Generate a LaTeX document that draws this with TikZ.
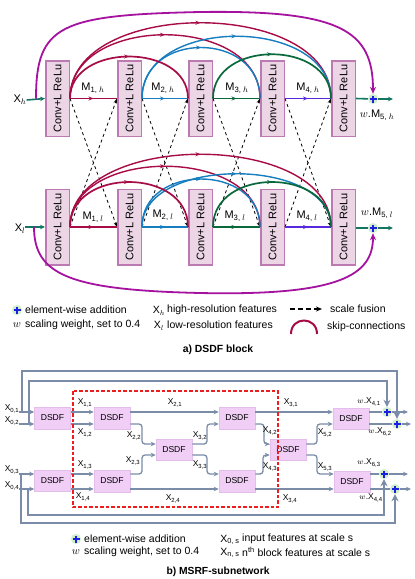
\documentclass[tikz,border=0pt]{standalone}
\usepackage{fontspec}
\setmainfont{Liberation Sans}
\usetikzlibrary{arrows.meta,decorations.markings}
\definecolor{cteal}{RGB}{18,118,98}
\definecolor{ccrim}{RGB}{168,12,70}
\definecolor{cblue}{RGB}{22,125,192}
\definecolor{cgreen}{RGB}{10,105,60}
\definecolor{cviol}{RGB}{88,40,220}
\definecolor{cmag}{RGB}{165,18,160}
\definecolor{boxfill}{RGB}{236,214,230}
\definecolor{boxdraw}{RGB}{188,122,178}
\definecolor{plusfill}{RGB}{205,240,200}
\definecolor{plusblue}{RGB}{30,30,225}
\definecolor{cgray}{RGB}{122,140,168}
\definecolor{dsdffill}{RGB}{240,206,246}
\definecolor{dsdfdraw}{RGB}{228,190,234}
\definecolor{regionred}{RGB}{235,30,30}
\tikzset{
  conv/.style={draw=boxdraw, line width=1.5pt, fill=boxfill, minimum width=23.5pt, minimum height=75.5pt, inner sep=0pt, font=\fontsize{11}{12}\selectfont},
  midarr/.style={postaction={decorate}, decoration={markings, mark=at position #1 with {\arrow{Stealth[length=5pt,width=4pt]}}}},
  midarr/.default=0.5,
  link/.style={line width=1.6pt},
  skiparc/.style={line width=1.4pt, midarr},
  fuse/.style={dashed, line width=0.8pt, -{Stealth[length=5pt,width=3.5pt]}},
  addc/.style={circle, fill=plusfill, minimum size=10pt, inner sep=0pt,
    path picture={\draw[plusblue, line width=1.6pt]
      ([xshift=-3.5pt]path picture bounding box.center) -- ([xshift=3.5pt]path picture bounding box.center)
      ([yshift=-3.5pt]path picture bounding box.center) -- ([yshift=3.5pt]path picture bounding box.center);}},
  lab/.style={inner sep=0pt, font=\fontsize{11}{12}\selectfont},
  leg/.style={inner sep=0pt, font=\fontsize{10.5}{12}\selectfont},
  slab/.style={inner sep=0pt, font=\fontsize{8.5}{10}\selectfont},
  dsdf/.style={draw=dsdfdraw, line width=0.5pt, fill=dsdffill, minimum width=36pt, minimum height=21.5pt, inner sep=0pt, font=\fontsize{8.6}{10}\selectfont},
  gl/.style={draw=cgray, line width=1.3pt, rounded corners=3pt, -{Stealth[length=5pt,width=4.5pt]}},
  gplain/.style={draw=cgray, line width=1.3pt},
  gloop/.style={draw=cgray, line width=2.3pt, -{Stealth[length=7pt,width=7pt]}},
}
\begin{document}
\begin{tikzpicture}[x=1pt,y=-1pt]
\useasboundingbox (0,0) rectangle (415,579);
\fill[white] (0,0) rectangle (415,579);

% ---------------- a) DSDF block ----------------
\foreach \i/\x in {1/57.5,2/129.5,3/200.5,4/272.5,5/343.5}{
  \node[conv] (t\i) at (\x,98.5) {\rotatebox{90}{Conv+L ReLu}};
  \node[conv] (b\i) at (\x,227) {\rotatebox{90}{Conv+L ReLu}};
}
\node[addc] (ph) at (373,99) {};
\node[addc] (pl) at (373,228) {};
\coordinate (oh) at (393,99);
\coordinate (ol) at (393,228);

% scale fusion
\foreach \i/\j in {1/2,2/3,3/4,4/5}{
  \draw[fuse] (t\i.east) -- (b\j.west);
  \draw[fuse] (b\i.east) -- (t\j.west);
}

% straight links
\draw[link, ccrim, midarr] (t1.east) -- (t2.west);
\draw[link, cblue, midarr] (t2.east) -- (t3.west);
\draw[link, cgreen, midarr] (t3.east) -- (t4.west);
\draw[link, cviol, midarr] (t4.east) -- (t5.west);
\draw[link, ccrim, midarr] (b1.east) -- (b2.west);
\draw[link, cblue, midarr] (b2.east) -- (b3.west);
\draw[link, cgreen, midarr] (b3.east) -- (b4.west);
\draw[link, cviol, midarr] (b4.east) -- (b5.west);

% skip arcs top
\draw[skiparc, ccrim] (t1.east) .. controls +(0,-101) and +(0,-101) .. (t5.west);
\draw[skiparc, ccrim] (t1.east) .. controls +(0,-85) and +(0,-85) .. (t4.west);
\draw[skiparc, cblue] (t2.east) .. controls +(0,-83) and +(0,-83) .. (t5.west);
\draw[skiparc, cblue] (t2.east) .. controls +(0,-68) and +(0,-68) .. (t4.west);
\draw[skiparc, ccrim, line width=1.7pt] (t1.east) .. controls +(0,-56) and +(0,-56) .. (t3.west);
\draw[skiparc, cgreen, line width=1.7pt] (t3.east) .. controls +(0,-59) and +(0,-59) .. (t5.west);
% skip arcs bottom
\draw[skiparc, ccrim] (b1.east) .. controls +(0,-97) and +(0,-97) .. (b5.west);
\draw[skiparc, ccrim] (b1.east) .. controls +(0,-81) and +(0,-81) .. (b4.west);
\draw[skiparc, cblue] (b2.east) .. controls +(0,-71) and +(0,-71) .. (b5.west);
\draw[skiparc, cblue] (b2.east) .. controls +(0,-64) and +(0,-64) .. (b4.west);
\draw[skiparc, ccrim, line width=1.7pt] (b1.east) .. controls +(0,-60) and +(0,-60) .. (b3.west);
\draw[skiparc, cgreen, line width=1.7pt] (b3.east) .. controls +(0,-60) and +(0,-60) .. (b5.west);

% inputs / outputs
\node[lab] (xh) at (20,100) {X\textsubscript{$h$}};
\node[lab] (xl) at (20,229) {X\textsubscript{$l$}};
\draw[cteal, link, -{Stealth[length=5pt,width=4.5pt]}] (xh.east) -- (t1.west);
\draw[cteal, link, -{Stealth[length=5pt,width=4.5pt]}] (xl.east |- b1.west) -- (b1.west);
\draw[cteal, link] (t5.east) -- (ph);
\draw[cteal, link] (b5.east |- pl) -- (pl);
\draw[cteal, link, -{Stealth[length=5pt,width=4.5pt]}] (ph) -- (oh);
\draw[cteal, link, -{Stealth[length=5pt,width=4.5pt]}] (pl) -- (ol);

% magenta residuals
\coordinate (mh) at (36,98.5);
\coordinate (ml) at (34,227);
\draw[cmag, line width=1.8pt, -{Stealth[length=7pt,width=6pt]}] (mh) .. controls (36,25) and (60,15) .. (200,12) .. controls (340,10) and (373,30) .. (ph.north);
\draw[cmag, line width=1.8pt, -{Stealth[length=7pt,width=6pt]}] (ml) .. controls (34,275) and (70,290) .. (200,293) .. controls (340,296) and (373,275) .. (pl.south);

% labels
\node[lab] at (93,88) {M\textsubscript{1, $h$}};
\node[lab] at (163,88) {M\textsubscript{2, $h$}};
\node[lab] at (237,88) {M\textsubscript{3, $h$}};
\node[lab] at (308,88) {M\textsubscript{4, $h$}};
\node[lab] at (93,217) {M\textsubscript{1, $l$}};
\node[lab] at (163,215) {M\textsubscript{2, $l$}};
\node[lab] at (235,216) {M\textsubscript{3, $l$}};
\node[lab] at (307,216) {M\textsubscript{4, $l$}};
\node[lab] at (377,115) {$w$.M\textsubscript{5, $h$}};
\node[lab] at (377,213) {$w$.M\textsubscript{5, $l$}};

% legend a
\node[addc] (lga) at (17,310) {};
\node[leg, anchor=west] at (25,310) {element-wise addition};
\node[leg] at (17,325) {$w$};
\node[leg, anchor=west] at (25,325) {scaling weight, set to 0.4};
\node[leg] at (159,311) {X\textsubscript{$h$}};
\node[leg, anchor=west] at (167,309.5) {high-resolution features};
\node[leg] at (159,326) {X\textsubscript{$l$}};
\node[leg, anchor=west] at (167,325) {low-resolution features};
\draw[black, line width=1.4pt, dash pattern=on 5pt off 3pt, -{Stealth[length=6pt,width=5pt]}] (290,309) -- (322,309);
\node[leg, anchor=west] at (330,309) {scale fusion};
\draw[ccrim, line width=2pt] (291,334) .. controls (291,316) and (317,316) .. (317,334);
\node[leg, anchor=west] at (327,327) {skip-connections};
\node[inner sep=0pt, font=\bfseries\fontsize{10.4}{12}\selectfont] at (218,350) {a) DSDF block};

% ---------------- b) MSRF-subnetwork ----------------
\coordinate (r1) at (0,412);
\coordinate (r2) at (0,424);
\coordinate (mt) at (0,444);
\coordinate (mb) at (0,455);
\coordinate (r3) at (0,474);
\coordinate (r4) at (0,489);

\node[dsdf] (A) at (52.5,418) {DSDF};
\node[dsdf] (B) at (112,418) {DSDF};
\node[dsdf] (D) at (237,418) {DSDF};
\node[dsdf] (H) at (351,418.5) {DSDF};
\node[dsdf] (C) at (174,449.5) {DSDF};
\node[dsdf] (G) at (288,449.5) {DSDF};
\node[dsdf] (A2) at (52.5,480.5) {DSDF};
\node[dsdf] (E) at (112,481) {DSDF};
\node[dsdf] (F) at (237,481) {DSDF};
\node[dsdf] (J) at (352,481.5) {DSDF};

\node[addc] (P1) at (387,412) {};
\node[addc] (P2) at (397,424) {};
\node[addc] (P3) at (384,474) {};
\node[addc] (P4) at (395,489) {};
\coordinate (q1) at (408,412);
\coordinate (q2) at (411,424);
\coordinate (q3) at (408,474);
\coordinate (q4) at (411,489);

% inputs
\node[slab] (x01) at (12,409) {X\textsubscript{0,1}};
\node[slab] (x02) at (12,421) {X\textsubscript{0,2}};
\node[slab] (x03) at (12,470) {X\textsubscript{0,3}};
\node[slab] (x04) at (12,486) {X\textsubscript{0,4}};
\coordinate (i1) at (19,412);
\coordinate (i2) at (19,424);
\coordinate (i3) at (19,474);
\coordinate (i4) at (19,489);
\draw[gl] (i1) -- (i1 -| A.west);
\draw[gl] (i2) -- (i2 -| A.west);
\draw[gl] (i3) -- (i3 -| A2.west);
\draw[gl] (i4) -- (i4 -| A2.west);

% long residual loops
\coordinate (o1) at (22,412); \coordinate (o1t) at (22,371);
\coordinate (o2) at (29,424); \coordinate (o2t) at (29,381);
\coordinate (o3) at (21,474); \coordinate (o3b) at (21,523);
\coordinate (o4) at (28,489); \coordinate (o4b) at (28,515);
\draw[gloop] (o1) -- (o1t) -| (P2.north);
\draw[gloop] (o2) -- (o2t) -| (P1.north);
\draw[gloop] (o3) -- (o3b) -| (P4.south);
\draw[gloop] (o4) -- (o4b) -| (P3.south);

% internal connections
\draw[gl] (A.east |- r1) -- (B.west |- r1);
\draw[gl] (A.east |- r2) -- (B.west |- r2);
\draw[gl] (B.east |- r1) -- (D.west |- r1);
\draw[gl] (D.east |- r1) -- (H.west |- r1);
\draw[gl] (B.east |- r2) -- (142,424) -- (142,444) -- (C.west |- mt);
\draw[gl] (C.east |- mt) -- (207,444) -- (207,424) -- (D.west |- r2);
\draw[gl] (D.east |- r2) -- (264,424) -- (264,444) -- (G.west |- mt);
\draw[gl] (G.east |- mt) -- (317,444) -- (317,424) -- (H.west |- r2);
\draw[gl] (A2.east |- r3) -- (E.west |- r3);
\draw[gl] (A2.east |- r4) -- (E.west |- r4);
\draw[gl] (E.east |- r3) -- (142,474) -- (142,455) -- (C.west |- mb);
\draw[gl] (E.east |- r4) -- (F.west |- r4);
\draw[gl] (C.east |- mb) -- (207,455) -- (207,474) -- (F.west |- r3);
\draw[gl] (F.east |- r3) -- (263,474) -- (263,455) -- (G.west |- mb);
\draw[gl] (F.east |- r4) -- (J.west |- r4);
\draw[gl] (G.east |- mb) -- (317,455) -- (317,474) -- (J.west |- r3);

% outputs
\draw[gplain] (H.east |- r1) -- (P1);
\draw[gplain] (H.east |- r2) -- (P2);
\draw[gplain] (J.east |- r3) -- (P3);
\draw[gplain] (J.east |- r4) -- (P4);
\draw[gl] (P1) -- (q1);
\draw[gl] (P2) -- (q2);
\draw[gl] (P3) -- (q3);
\draw[gl] (P4) -- (q4);

% red dashed region
\draw[regionred, line width=1.3pt, dash pattern=on 3.5pt off 2pt] (73,391) rectangle (278,507);

% small labels
\node[slab] at (85,403) {X\textsubscript{1,1}};
\node[slab] at (85,433) {X\textsubscript{1,2}};
\node[slab] at (85,465) {X\textsubscript{1,3}};
\node[slab] at (83,497) {X\textsubscript{1,4}};
\node[slab] at (175,403) {X\textsubscript{2,1}};
\node[slab] at (134,436) {X\textsubscript{2,2}};
\node[slab] at (133,461) {X\textsubscript{2,3}};
\node[slab] at (173,499) {X\textsubscript{2,4}};
\node[slab] at (291,403) {X\textsubscript{3,1}};
\node[slab] at (200,436) {X\textsubscript{3,2}};
\node[slab] at (200,465) {X\textsubscript{3,3}};
\node[slab] at (290,499) {X\textsubscript{3,4}};
\node[slab] at (270,431) {X\textsubscript{4,2}};
\node[slab] at (270,467) {X\textsubscript{4,3}};
\node[slab] at (325,433) {X\textsubscript{5,2}};
\node[slab] at (325,467) {X\textsubscript{5,3}};
\node[slab] at (369,402) {$w$.X\textsubscript{4,1}};
\node[slab] at (380,432) {$w$.X\textsubscript{6,2}};
\node[slab] at (369,463) {$w$.X\textsubscript{6,3}};
\node[slab] at (371,498) {$w$.X\textsubscript{4,4}};

% legend b
\node[addc] (lgb) at (76,539) {};
\node[leg, anchor=west] at (84,539) {element-wise addition};
\node[leg] at (76,552) {$w$};
\node[leg, anchor=west] at (84,552) {scaling weight, set to 0.4};
\node[leg] at (230,540) {X\textsubscript{0, s}};
\node[leg, anchor=west] at (242,539) {input features at scale s};
\node[leg] at (230,553) {X\textsubscript{n, s}};
\node[leg, anchor=west] at (242,552) {n\textsuperscript{th} block features at scale s};
\node[inner sep=0pt, font=\bfseries\fontsize{10.3}{12}\selectfont] at (218,572) {b) MSRF-subnetwork};
\end{tikzpicture}
\end{document}
